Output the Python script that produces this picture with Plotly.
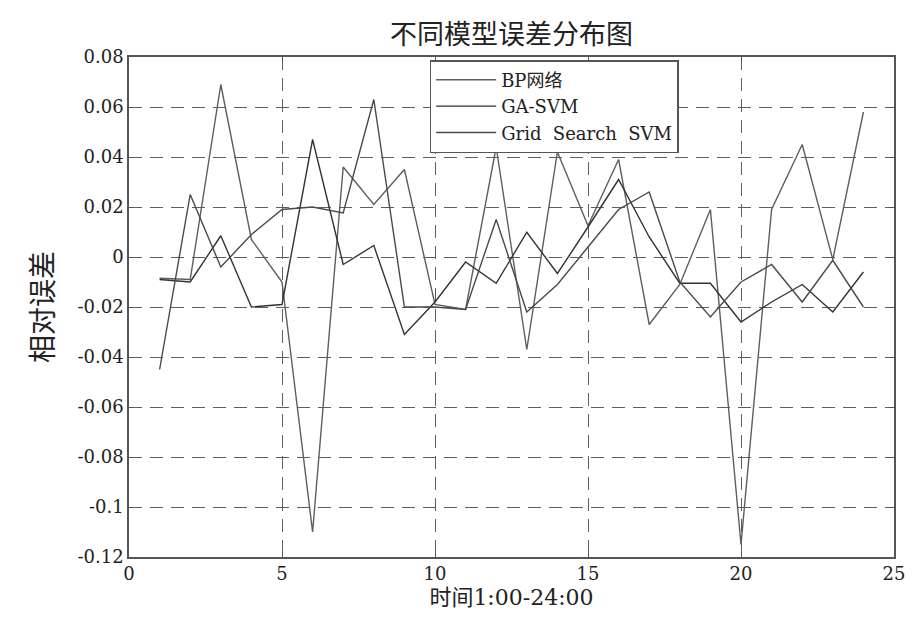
import plotly.graph_objects as go

hours = list(range(1, 25))

bp_err = [-0.0085, -0.009, 0.069, 0.007, -0.010, -0.110, 0.036, 0.021, 0.035, -0.019,
          -0.021, 0.044, -0.037, 0.042, 0.0125, 0.039, -0.027, -0.011, 0.019, -0.115,
          0.019, 0.045, -0.001, 0.058]
ga_svm_err = [-0.009, -0.010, 0.0085, -0.020, -0.019, 0.047, -0.003, 0.0046, -0.031, -0.018,
              -0.002, -0.0105, 0.0099, -0.0066, 0.012, 0.031, 0.008, -0.0105, -0.0105, -0.026,
              -0.018, -0.011, -0.022, -0.006]
grid_svm_err = [-0.045, 0.025, -0.004, 0.009, 0.019, 0.020, 0.0176, 0.063, -0.020, -0.020,
                -0.021, 0.015, -0.022, -0.011, 0.004, 0.019, 0.026, -0.010, -0.024, -0.010,
                -0.003, -0.018, -0.0013, -0.020]

series_names = ["BP网络", "GA-SVM", "Grid  Search  SVM"]
series_vals = [bp_err, ga_svm_err, grid_svm_err]
series_colors = ["#5e5e5e", "#333333", "#4a4a4a"]

y_ticks = [0.08, 0.06, 0.04, 0.02, 0, -0.02, -0.04, -0.06, -0.08, -0.1, -0.12]
y_tick_text = ["0.08", "0.06", "0.04", "0.02", "0", "-0.02", "-0.04", "-0.06", "-0.08", "-0.1", "-0.12"]
x_ticks = [0, 5, 10, 15, 20, 25]

fig = go.Figure()
for name, vals, col in zip(series_names, series_vals, series_colors):
    fig.add_trace(go.Scatter(x=hours, y=vals, mode="lines", name=name,
                             line=dict(color=col, width=1.4)))

serif = "DejaVu Serif, Liberation Serif, serif"
tick_font = dict(family=serif, size=18, color="#222")
axis_common = dict(showline=True, linecolor="#555", linewidth=1.6, mirror="ticks",
                   ticks="inside", ticklen=5, tickcolor="#555",
                   showgrid=True, gridcolor="#5e5e5e", gridwidth=1.3,
                   griddash="13px,8px", zeroline=False, tickfont=tick_font)

fig.update_layout(
    width=917, height=622,
    margin=dict(l=129, r=15, t=57, b=65),
    paper_bgcolor="white", plot_bgcolor="white",
    title=dict(text="不同模型误差分布图", x=0.5, xref="paper", xanchor="center",
               y=0.945, yanchor="middle",
               font=dict(family="Noto Sans CJK SC", size=27, color="#222")),
    xaxis=dict(range=[0, 25], tickvals=x_ticks,
               title=dict(text="时间1:00-24:00", standoff=6,
                          font=dict(family="DejaVu Serif, Noto Sans CJK SC", size=22, color="#222")),
               **axis_common),
    yaxis=dict(range=[-0.12, 0.08], tickvals=y_ticks, ticktext=y_tick_text,
               title=dict(text="相对误差", standoff=16,
                          font=dict(family="Noto Sans CJK SC", size=28, color="#222")),
               **axis_common),
    legend=dict(x=0.393, y=0.994, xanchor="left", yanchor="top",
                bgcolor="white", bordercolor="#555", borderwidth=1.5,
                font=dict(family="DejaVu Serif, Noto Sans CJK SC", size=18, color="#222"),
                tracegroupgap=0, itemwidth=60),
    showlegend=True,
)

fig.write_html("out.html")
